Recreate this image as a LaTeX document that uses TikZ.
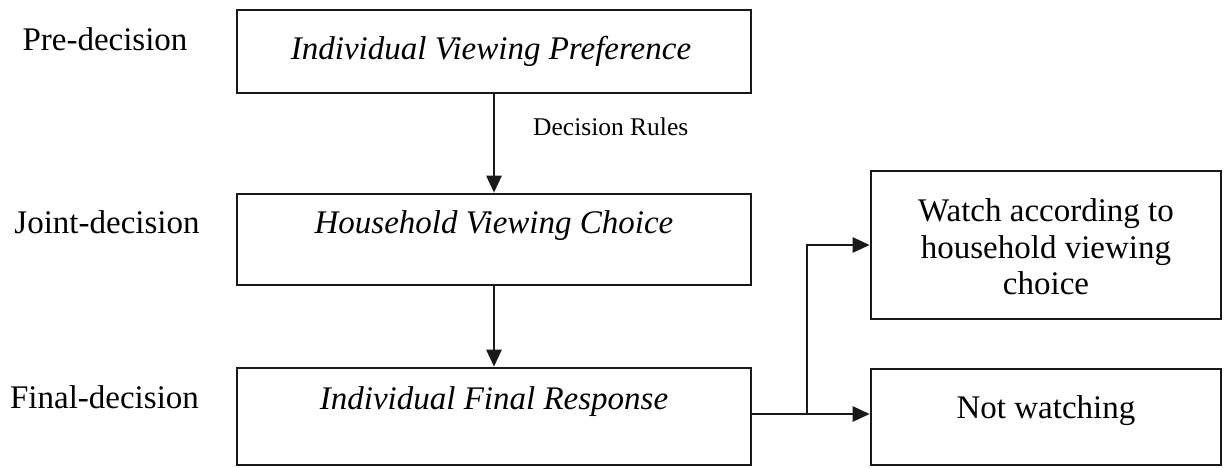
\documentclass[tikz,border=0pt]{standalone}
\usepackage{fontspec}
\setmainfont{Liberation Serif}
\usetikzlibrary{arrows.meta}

\tikzset{
  box/.style={draw=black!90, line width=2.6pt, inner sep=0pt, rectangle},
  txt/.style={inner sep=0pt, font=\fontsize{33}{36.5}\selectfont},
  itxt/.style={txt, font=\fontsize{33}{36.5}\selectfont\itshape},
  small/.style={inner sep=0pt, font=\fontsize{25.5}{28}\selectfont},
  conn/.style={draw=black!90, line width=2.6pt},
  arr/.style={conn, -{Triangle[length=17pt,width=15pt]}}
}

\begin{document}
\begin{tikzpicture}[x=1pt,y=-1pt]
\useasboundingbox (0,0) rectangle (1224,467);

% stage labels
\node[txt, anchor=base] (l1) at (105,50)  {Pre-decision};
\node[txt, anchor=base] (l2) at (107,233) {Joint-decision};
\node[txt, anchor=base] (l3) at (104.5,408) {Final-decision};

% main column of boxes
\node[box, minimum width=514pt, minimum height=83pt] (b1) at (494,51.5)  {};
\node[box, minimum width=514pt, minimum height=91pt] (b2) at (494,239.5) {};
\node[box, minimum width=514pt, minimum height=97pt] (b3) at (494,416.5) {};

\node[itxt, anchor=base] (t1) at (491,59)  {Individual Viewing Preference};
\node[itxt, anchor=base] (t2) at (494,233) {Household Viewing Choice};
\node[itxt, anchor=base] (t3) at (494,409) {Individual Final Response};

% outcome boxes
\node[box, minimum width=350pt, minimum height=148pt] (r1) at (1046,245)   {};
\node[box, minimum width=350pt, minimum height=96pt]  (r2) at (1046,417)   {};

\node[txt, align=center] (u1) at (1046,247) {Watch according to\\household viewing\\choice};
\node[txt, anchor=base] (u2) at (1046,418) {Not watching};

% connectors
\draw[arr] (b1.south) -- (b2.north);
\node[small, anchor=base west] (dr) at (533,135) {Decision Rules};
\draw[arr] (b2.south) -- (b3.north);

\coordinate (j) at (807,414);
\draw[arr] (b3.east |- j) -- (j -| r2.west);
\draw[arr] (j) |- (r1.west);
\end{tikzpicture}
\end{document}
